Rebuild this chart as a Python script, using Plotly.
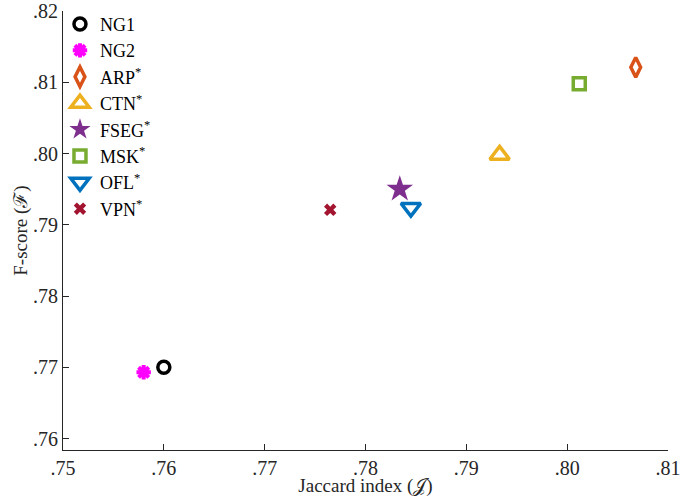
import plotly.graph_objects as go

methods = ["NG1", "NG2", "ARP", "CTN", "FSEG", "MSK", "OFL", "VPN"]
legend_labels = ["NG1", "NG2", "ARP<sup>*</sup>", "CTN<sup>*</sup>", "FSEG<sup>*</sup>",
                 "MSK<sup>*</sup>", "OFL<sup>*</sup>", "VPN<sup>*</sup>"]
jaccard = [0.7600, 0.7580, 0.8068, 0.7933, 0.7834, 0.8012, 0.7845, 0.7765]
fscore = [0.7700, 0.7693, 0.8121, 0.7998, 0.7950, 0.8098, 0.7924, 0.7921]

x_ticks = [0.75, 0.76, 0.77, 0.78, 0.79, 0.80, 0.81]
x_ticktext = [".75", ".76", ".77", ".78", ".79", ".80", ".81"]
y_ticks = [0.76, 0.77, 0.78, 0.79, 0.80, 0.81, 0.82]
y_ticktext = [".76", ".77", ".78", ".79", ".80", ".81", ".82"]

colors = ["#000000", "#FF00FF", "#D95319", "#EDB120", "#7E2F8E", "#77AC30", "#0072BD", "#A2142F"]
symbols = ["circle-open", "asterisk-open", "diamond-tall-open", "triangle-up-open",
           "star", "square-open", "triangle-down-open", "x"]
sizes = [12, 12, 14, 17, 20, 12, 17, 11]
widths = [3.5, 4, 3.5, 3.5, 0, 3.5, 3.5, 0]

fig = go.Figure()
for i, m in enumerate(methods):
    fig.add_trace(go.Scatter(
        x=[jaccard[i]], y=[fscore[i]], mode="markers", name=legend_labels[i],
        marker=dict(symbol=symbols[i], color=colors[i], size=sizes[i],
                    line=dict(color=colors[i], width=widths[i])),
    ))

font_family = "Liberation Serif, DejaVu Serif, serif"
axis_common = dict(showline=True, linecolor="#262626", linewidth=1, ticks="inside",
                   ticklen=6, tickcolor="#262626", showgrid=False, zeroline=False,
                   automargin=False, ticklabeloverflow="allow",
                   tickfont=dict(size=20, color="#262626", family=font_family))

fig.update_layout(
    width=694, height=497,
    margin=dict(l=63, r=26, t=11, b=47, autoexpand=False),
    paper_bgcolor="white", plot_bgcolor="white",
    font=dict(family=font_family, size=19, color="#262626"),
    xaxis=dict(range=[0.75, 0.81], tickvals=x_ticks, ticktext=x_ticktext,
               title=dict(text="Jaccard index (𝒥)", standoff=2, font=dict(size=19)), **axis_common),
    yaxis=dict(range=[0.7584, 0.82], tickvals=y_ticks, ticktext=y_ticktext,
               title=dict(text="F-score (ℱ)", standoff=0, font=dict(size=19)), **axis_common),
    legend=dict(x=-0.005, y=1.012, xanchor="left", yanchor="top", bgcolor="rgba(0,0,0,0)",
                font=dict(size=18, color="#000000"), tracegroupgap=0),
    showlegend=True,
)

fig.write_html("out.html", config={"displayModeBar": False},
               post_script="document.body.style.margin='0';document.body.style.padding='0';")
